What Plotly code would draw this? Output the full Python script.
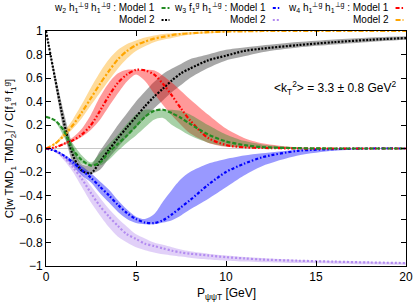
import plotly.graph_objects as go

# P_T grid (GeV)
X = [0, 0.5, 1, 1.5, 2, 2.5, 3, 3.5, 4, 4.5, 5, 5.5, 6, 6.5, 7, 7.5, 8, 9, 10, 11, 12, 14, 16, 18, 20]

# w2 h1perp h1perp : Model 1 (green)
w2_m1 = [.27, .24, .15, -.01, -.10, -.145, -.12, -.03, .04, .11, .19, .27, .32, .33, .30, .26, .21, .12, .06, .03, .012, .003, 0, 0, 0]
w2_m1_lo = [.27, .23, .10, -.05, -.13, -.145, -.145, -.095, -.02, .05, .11, .18, .245, .26, .20, .155, .11, .05, .02, .008, .004, 0, 0, 0, 0]
w2_m1_hi = [.27, .24, .17, .04, -.06, -.12, -.04, .04, .12, .21, .29, .33, .33, .33, .33, .32, .29, .20, .12, .065, .035, .008, .002, 0, 0]

# w2 : Model 2 (black)
w2_m2 = [1, .60, .22, -.06, -.19, -.21, -.11, -.01, .09, .18, .27, .36, .44, .51, .58, .64, .68, .75, .79, .83, .85, .88, .905, .925, .94]
w2_m2_lo = [1, .55, .14, -.12, -.205, -.215, -.18, -.08, .01, .10, .18, .26, .34, .41, .48, .54, .60, .685, .75, .785, .82, .86, .885, .907, .925]
w2_m2_hi = [1, .64, .30, .02, -.135, -.14, -.02, .09, .20, .30, .40, .485, .565, .635, .68, .72, .76, .80, .84, .86, .877, .906, .928, .945, .955]

# w3 f1 h1perp : Model 1 (blue)
w3_m1 = [0, -.02, -.06, -.12, -.185, -.25, -.325, -.40, -.48, -.55, -.60, -.63, -.635, -.61, -.56, -.50, -.44, -.31, -.20, -.13, -.075, -.02, -.005, 0, 0]
w3_m1_lo = [0, -.025, -.075, -.15, -.23, -.29, -.38, -.46, -.54, -.60, -.635, -.645, -.645, -.63, -.61, -.57, -.52, -.43, -.33, -.23, -.15, -.06, -.02, -.005, 0]
w3_m1_hi = [0, -.015, -.05, -.10, -.15, -.21, -.28, -.35, -.44, -.52, -.58, -.60, -.56, -.45, -.35, -.26, -.20, -.13, -.09, -.06, -.04, -.01, 0, 0, 0]

# w3 : Model 2 (violet)
w3_m2 = [0, -.02, -.075, -.16, -.26, -.38, -.49, -.58, -.66, -.73, -.77, -.81, -.83, -.85, -.87, -.885, -.895, -.91, -.925, -.935, -.945, -.955, -.963, -.97, -.975]
w3_m2_lo = [0, -.025, -.10, -.20, -.33, -.46, -.57, -.67, -.75, -.80, -.84, -.865, -.885, -.90, -.91, -.92, -.93, -.945, -.955, -.962, -.968, -.975, -.98, -.985, -.99]
w3_m2_hi = [0, -.018, -.06, -.13, -.215, -.32, -.42, -.515, -.595, -.665, -.73, -.765, -.80, -.82, -.84, -.86, -.875, -.895, -.91, -.923, -.932, -.948, -.957, -.963, -.970]

# w4 h1perp h1perp : Model 1 (red)
w4_m1 = [0, .01, .04, .07, .12, .20, .32, .45, .56, .63, .67, .665, .63, .55, .45, .34, .24, .09, .03, .01, .005, 0, 0, 0, 0]
w4_m1_lo = [0, .009, .03, .06, .10, .16, .245, .36, .47, .57, .63, .575, .47, .37, .28, .20, .13, .05, .015, .005, .002, 0, 0, 0, 0]
w4_m1_hi = [0, .014, .05, .095, .17, .29, .44, .56, .64, .67, .67, .67, .665, .62, .56, .49, .42, .29, .17, .09, .045, .01, 0, 0, 0]

# w4 : Model 2 (orange)
w4_m2 = [0, .04, .11, .20, .31, .43, .55, .66, .76, .83, .88, .91, .935, .95, .965, .975, .98, .99, .995, .997, 1, 1, 1, 1, 1]
w4_m2_lo = [0, .036, .095, .17, .26, .37, .475, .58, .68, .765, .83, .87, .905, .925, .94, .957, .968, .98, .99, .995, .997, 1, 1, 1, 1]
w4_m2_hi = [0, .048, .14, .25, .38, .52, .65, .76, .84, .89, .92, .945, .962, .975, .98, .986, .99, .996, .998, 1, 1, 1, 1, 1, 1]

x_ticks = [0, 5, 10, 15, 20]

FONT = "Liberation Sans, Arial, sans-serif"

series = [
    # center, lo, hi, line color, dash, band color
    (w2_m2, w2_m2_lo, w2_m2_hi, "#000000", "2px,1.5px", "rgba(120,120,120,0.65)"),
    (w3_m2, w3_m2_lo, w3_m2_hi, "#b38cf0", "2px,2px", "rgba(170,120,235,0.35)"),
    (w3_m1, w3_m1_lo, w3_m1_hi, "#0000ff", "3px,2px,1.5px,2px", "rgba(0,0,255,0.4)"),
    (w4_m2, w4_m2_lo, w4_m2_hi, "#ffa500", "5px,2px,2px,2px", "rgba(255,165,0,0.4)"),
    (w4_m1, w4_m1_lo, w4_m1_hi, "#ff0000", "4px,2px,1.5px,2px,1.5px,2px", "rgba(255,0,0,0.4)"),
    (w2_m1, w2_m1_lo, w2_m1_hi, "#228b22", "4px,2px", "rgba(34,139,34,0.4)"),
]

fig = go.Figure()
for c, lo, hi, lc, dash, bc in series:
    fig.add_trace(go.Scatter(x=X, y=lo, mode="lines", line=dict(width=0, shape="spline", smoothing=0.8),
                             hoverinfo="skip", showlegend=False))
    fig.add_trace(go.Scatter(x=X, y=hi, mode="lines", line=dict(width=0, shape="spline", smoothing=0.8),
                             fill="tonexty", fillcolor=bc, hoverinfo="skip", showlegend=False))
for c, lo, hi, lc, dash, bc in series:
    fig.add_trace(go.Scatter(x=X, y=c, mode="lines",
                             line=dict(color=lc, width=2.2, dash=dash, shape="spline", smoothing=0.8),
                             showlegend=False))

# legend (gnuplot style: right-aligned text then short sample)
leg_font = dict(family=FONT, size=10, color="black")
leg = [
    ("w<sub>2</sub> h<sub>1</sub><sup>⊥g</sup> h<sub>1</sub><sup>⊥g</sup> : Model 1", 0.308, 1.098, "#228b22", "4px,2px"),
    ("Model 2", 0.308, 1.047, "#000000", "2px,1.5px"),
    ("w<sub>3</sub> f<sub>1</sub><sup>g</sup> h<sub>1</sub><sup>⊥g</sup> : Model 1", 0.617, 1.098, "#0000ff", "3px,2px,1.5px,2px"),
    ("Model 2", 0.617, 1.047, "#b38cf0", "2px,2px"),
    ("w<sub>4</sub> h<sub>1</sub><sup>⊥g</sup> h<sub>1</sub><sup>⊥g</sup> : Model 1", 0.958, 1.098, "#ff0000", "4px,2px,1.5px,2px"),
    ("Model 2", 0.958, 1.047, "#ffa500", "5px,2px,2px,2px"),
]
for txt, xr, yp, col, dash in leg:
    fig.add_annotation(x=xr, y=yp, xref="paper", yref="paper", text=txt, showarrow=False,
                       xanchor="right", yanchor="middle", font=leg_font)
    fig.add_shape(type="line", xref="paper", yref="paper", x0=xr + 0.013, x1=xr + 0.035, y0=yp, y1=yp,
                  line=dict(color=col, width=2, dash=dash))

fig.add_annotation(x=12.56, y=0.515, xref="x", yref="y",
                   text="&lt;k<sub>T</sub><sup>2</sup>&gt; = 3.3 ± 0.8 GeV<sup>2</sup>",
                   showarrow=False, xanchor="left", yanchor="middle",
                   font=dict(family=FONT, size=12, color="black"))

# x-axis title as annotation
fig.add_annotation(x=0.5, y=-0.118, xref="paper", yref="paper",
                   text="P<sub>ψψ</sub><sub>T</sub> [GeV]", showarrow=False,
                   xanchor="center", yanchor="middle", font=dict(family=FONT, size=12, color="black"))

axis_common = dict(showline=True, linecolor="black", linewidth=1, mirror="ticks", ticks="inside",
                   ticklen=5, tickcolor="black", showgrid=False, ticklabeloverflow="allow",
                   tickfont=dict(family=FONT, size=12, color="black"))

fig.update_xaxes(range=[0, 20], tickvals=x_ticks, zeroline=False, **axis_common)
fig.update_yaxes(range=[-1, 1], tick0=0, dtick=0.2, zeroline=True, zerolinecolor="#c8c8c8", zerolinewidth=1,
                 title=dict(text="C[w TMD<sub>1</sub> TMD<sub>2</sub>] / C[f<sub>1</sub><sup>g</sup> f<sub>1</sub><sup>g</sup>]",
                            standoff=2, font=dict(family=FONT, size=11.5)),
                 **axis_common)

fig.update_layout(width=415, height=305, margin=dict(l=46, r=9, t=31, b=39, autoexpand=False),
                  plot_bgcolor="white", paper_bgcolor="white", showlegend=False,
                  font=dict(family=FONT, size=12, color="black"))

fig.write_html("out.html", config={"displayModeBar": False},
               post_script="document.body.style.margin='0';document.body.style.padding='0';"
                           "document.body.style.overflow='hidden';")
